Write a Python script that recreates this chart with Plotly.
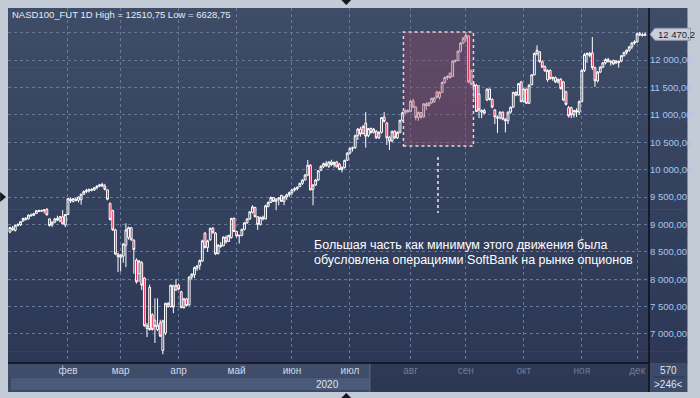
import pandas as pd
import plotly.graph_objects as go

# ---------------- data ----------------
dates = pd.bdate_range("2020-01-02", "2020-12-04")

opens = [
    # Jan
    8860, 8930, 8890, 8985, 8990, 9060, 9115, 9100, 9170, 9165, 9200, 9250, 9240, 9250, 9270, 9100, 8990, 9040, 9110, 9060, 9140, 8990,
    # Feb
    9180, 9460, 9420, 9460, 9440, 9450, 9550, 9600, 9610, 9640, 9630, 9670, 9700, 9730, 9700, 9630, 9380, 9250, 8900, 8460,
    # Mar
    8400, 8420, 8620, 8760, 8940, 8710, 8350, 8100, 8300, 8020, 7100, 7850, 7350, 7250, 7080, 7200, 6700, 7020, 7500, 7500, 7880, 7800,
    # Apr
    7890, 7770, 7480, 7640, 7530, 8040, 8080, 8200, 8250, 8330, 8840, 8580, 8720, 8930, 8840, 8470, 8620, 8610, 8760, 8690, 8760, 9110,
    # May
    8870, 8790, 8800, 8910, 9030, 9100, 9220, 9310, 9140, 9000, 9130, 9100, 9330, 9400, 9490, 9420, 9460, 9530, 9420, 9500, 9540,
    # Jun
    9580, 9630, 9650, 9690, 9750, 9810, 9900, 10080, 9640, 9720, 9810, 9990, 10060, 10110, 10060, 10140, 10090, 10140, 10100, 10000, 10040, 10170,
    # Jul
    10300, 10390, 10400, 10620, 10740, 10660, 10850, 10620, 10750, 10680, 10700, 10580, 10680, 10960, 10850, 10590, 10520, 10700, 10580, 10680, 10900, 11040, 11080,
    # Aug
    11060, 11250, 11140, 10950, 11040, 10960, 11200, 11170, 11220, 11240, 11420, 11320, 11410, 11590, 11680, 11760, 11700, 11980, 11990, 12160, 12310,
    # Sep
    12400, 12440, 11800, 11560, 11540, 11380, 11050, 11080, 11270, 11470, 11280, 11090, 10960, 10940, 11050, 10920, 10890, 11050, 11140, 11410, 11360, 11600,
    # Oct
    11240, 11470, 11210, 11550, 11730, 12120, 12150, 11970, 11880, 11640, 11810, 11660, 11680, 11600, 11650, 11600, 11420, 11130, 11130, 11000, 11080, 11050,
    # Nov
    11240, 11810, 12100, 12120, 12130, 11860, 11620, 11780, 11870, 11950, 12010, 11970, 11990, 11980, 11950, 11980, 12080, 12140, 12180, 12240, 12310,
    # Dec
    12330, 12480, 12460, 12450,
]

highs = [
    8955, 8970, 8990, 9020, 9060, 9120, 9130, 9180, 9200, 9210, 9260, 9270, 9265, 9280, 9300, 9110, 9060, 9120, 9160, 9150, 9260, 9190,
    9480, 9490, 9480, 9490, 9510, 9560, 9620, 9650, 9650, 9660, 9680, 9710, 9740, 9760, 9740, 9640, 9400, 9270, 8920, 8480,
    8460, 8660, 9020, 8960, 8950, 8730, 8380, 8350, 8330, 8040, 7200, 7900, 7380, 7650, 7650, 7260, 7260, 7570, 7580, 7900, 7900, 8000,
    7920, 7790, 7660, 7660, 8050, 8110, 8230, 8260, 8360, 8720, 8860, 8720, 8940, 8950, 8860, 8640, 8680, 8780, 8800, 8810, 9120, 9130,
    8880, 8810, 8920, 9040, 9110, 9240, 9350, 9320, 9150, 9140, 9160, 9360, 9420, 9510, 9500, 9480, 9500, 9540, 9520, 9560, 9600,
    9640, 9680, 9690, 9760, 9820, 9920, 10175, 10100, 9730, 9830, 9990, 10080, 10130, 10160, 10150, 10180, 10150, 10160, 10120, 10060, 10180, 10320,
    10400, 10420, 10640, 10760, 10780, 10810, 11050, 10760, 10770, 10760, 10720, 10700, 10960, 11050, 10870, 10610, 10710, 10720, 10700, 10910, 11060, 11100, 11100,
    11270, 11290, 11160, 11060, 11050, 11210, 11230, 11230, 11310, 11320, 11440, 11430, 11610, 11700, 11720, 11770, 12000, 12010, 12180, 12330, 12420,
    12510.75, 12450, 11830, 11600, 11560, 11545, 11100, 11110, 11480, 11480, 11300, 11100, 10990, 11060, 11060, 10940, 11060, 11150, 11420, 11430, 11580, 11620,
    11480, 11480, 11560, 11740, 12140, 12270, 12160, 11990, 11900, 11830, 11830, 11700, 11700, 11660, 11670, 11620, 11440, 11160, 11150, 11090, 11120, 11260,
    11830, 12130, 12140, 12150, 12420, 11880, 11800, 11890, 11960, 12030, 12040, 12000, 12010, 12000, 11990, 12090, 12150, 12190, 12260, 12330, 12360,
    12500, 12510, 12500, 12500,
]

lows = [
    8840, 8880, 8870, 8960, 8970, 9050, 9070, 9090, 9140, 9150, 9190, 9225, 9225, 9200, 9160, 8960, 8950, 9020, 9060, 9040, 9000, 8950,
    9170, 9390, 9400, 9420, 9400, 9360, 9540, 9570, 9580, 9600, 9610, 9640, 9680, 9680, 9620, 9440, 9070, 8880, 8440, 8130,
    8140, 8300, 8220, 8720, 8700, 8100, 7920, 7950, 7800, 7130, 6945, 7060, 7060, 6835, 7050, 6945, 6628.75, 6980, 7480, 7480, 7380, 7790,
    7800, 7470, 7460, 7500, 7520, 7990, 8020, 8150, 8170, 8320, 8560, 8500, 8700, 8830, 8440, 8450, 8570, 8600, 8650, 8680, 8740, 8860,
    8760, 8650, 8780, 8890, 9010, 9080, 9200, 9130, 8900, 8980, 9070, 9090, 9310, 9390, 9410, 9260, 9350, 9410, 9350, 9450, 9500,
    9540, 9600, 9620, 9680, 9720, 9800, 9880, 9620, 9350, 9700, 9790, 9970, 10030, 10050, 10030, 10070, 10040, 10040, 9990, 9950, 10020, 10160,
    10280, 10330, 10380, 10540, 10600, 10640, 10400, 10590, 10650, 10660, 10560, 10560, 10660, 10860, 10450, 10360, 10500, 10560, 10560, 10660, 10880, 11010, 11030,
    11050, 11130, 10900, 10890, 10930, 10950, 11090, 11150, 11200, 11220, 11300, 11280, 11400, 11570, 11640, 11660, 11690, 11950, 11980, 12140, 12290,
    12330, 11580, 11540, 11300, 11050, 10940, 10940, 11010, 11250, 11260, 11120, 10830, 10670, 10920, 10900, 10680, 10830, 11020, 11130, 11340, 11350, 11230,
    11220, 11200, 11200, 11540, 11720, 12080, 11950, 11860, 11790, 11600, 11640, 11620, 11580, 11570, 11460, 11250, 11170, 10950, 10940, 10950, 10960, 11000,
    11230, 11780, 11950, 12050, 11820, 11510, 11590, 11760, 11850, 11920, 11960, 11900, 11910, 11930, 11860, 11960, 12060, 12100, 12150, 12200, 12280,
    12320, 12440, 12430, 12440,
]

closes = [
    8945, 8905, 8985, 8995, 9050, 9110, 9095, 9170, 9160, 9195, 9250, 9240, 9255, 9265, 9175, 8980, 9040, 9100, 9080, 9140, 9010, 9180,
    9470, 9430, 9470, 9440, 9500, 9550, 9600, 9620, 9640, 9625, 9670, 9700, 9720, 9700, 9640, 9460, 9090, 8900, 8460, 8410,
    8440, 8640, 8900, 8940, 8720, 8540, 7950, 8330, 7890, 7150, 7150, 7080, 7080, 7140, 7160, 6960, 7240, 7560, 7560, 7890, 7490, 7890,
    7820, 7480, 7640, 7520, 8040, 8090, 8210, 8240, 8340, 8700, 8580, 8700, 8930, 8850, 8460, 8620, 8600, 8770, 8680, 8800, 9110, 8870,
    8790, 8800, 8910, 9030, 9100, 9230, 9320, 9140, 9000, 9130, 9100, 9340, 9400, 9490, 9420, 9460, 9480, 9420, 9500, 9540, 9580,
    9630, 9650, 9680, 9750, 9810, 9900, 10080, 9630, 9720, 9810, 9980, 10060, 10110, 10070, 10140, 10090, 10130, 10050, 10000, 10040, 10170, 10300,
    10390, 10400, 10620, 10740, 10650, 10790, 10610, 10750, 10680, 10740, 10580, 10680, 10950, 10880, 10580, 10520, 10700, 10580, 10680, 10900, 11040, 11080, 11060,
    11250, 11140, 10950, 11040, 10960, 11200, 11170, 11220, 11300, 11310, 11320, 11410, 11590, 11680, 11700, 11680, 11980, 11990, 12160, 12310, 12400,
    12450, 11600, 11560, 11520, 11060, 11090, 11080, 11030, 11470, 11280, 11140, 10960, 10940, 11050, 10920, 10890, 11050, 11140, 11410, 11360, 11570, 11240,
    11470, 11210, 11540, 11730, 12120, 12180, 11970, 11870, 11800, 11810, 11660, 11680, 11600, 11650, 11480, 11270, 11190, 10980, 11000, 11080, 11050, 11240,
    11810, 12100, 12120, 12080, 11860, 11620, 11780, 11870, 11950, 12010, 11970, 11960, 11930, 11950, 11980, 12080, 12140, 12180, 12240, 12310, 12330,
    12480, 12460, 12450, 12470.25,
]

month_labels = ["фев", "мар", "апр", "май", "июн", "июл", "авг", "сен", "окт", "ноя", "дек"]
y_ticks = [7000, 7500, 8000, 8500, 9000, 9500, 10000, 10500, 11000, 11500, 12000, 12500]
note_lines = ["Большая часть как минимум этого движения была",
              "обусловлена операциями SoftBank на рынке опционов"]
instrument = "NASD100_FUT 1D"
year_label = "2020"
corner_top, corner_bottom = "570", ">246<"

assert len(opens) == len(highs) == len(lows) == len(closes) == len(dates), (
    len(opens), len(highs), len(lows), len(closes), len(dates))

# ---------------- layout helpers ----------------
W, H = 700, 398
ML, MR, MT, MB = 8, 42, 8, 35
PW, PH = W - ML - MR, H - MT - MB
FONT = "Liberation Sans, Arial, sans-serif"


def X(p):
    return (p - ML) / PW


def Y(p):
    return (H - MB - p) / PH


def ru_num(v, dec=2, sep=" "):
    s = f"{v:,.{dec}f}"
    return s.replace(",", sep).replace(".", ",")


idx = list(range(len(dates)))
month_starts = [i for i in range(1, len(dates)) if dates[i].month != dates[i - 1].month]
tick_text = []
for k, lab in enumerate(month_labels):
    col = "#cfd8ea" if k < 6 else "#6e7d96"
    tick_text.append(f'<span style="color:{col}">{lab}</span>')

last = closes[-1]
y_text = [ru_num(v) if abs(v - last) > 250 else "" for v in y_ticks]

fig = go.Figure()
fig.add_trace(go.Candlestick(
    x=idx, open=opens, high=highs, low=lows, close=closes,
    increasing=dict(line=dict(color="#ffffff", width=1), fillcolor="rgba(0,0,0,0)"),
    decreasing=dict(line=dict(color="#ffffff", width=1), fillcolor="#e3143f"),
    whiskerwidth=0, hoverinfo="skip", showlegend=False,
))

shapes = []
# gradient panel background
top_c, bot_c = (62, 76, 104), (44, 56, 85)
N = 30
y_top, y_bot = 8, 363
for k in range(N):
    t = k / (N - 1)
    c = tuple(round(top_c[j] + (bot_c[j] - top_c[j]) * t) for j in range(3))
    y0 = y_top + (y_bot - y_top) * k / N
    y1 = y_top + (y_bot - y_top) * (k + 1) / N + 0.6
    shapes.append(dict(type="rect", xref="paper", yref="paper", layer="below",
                       x0=X(8), x1=X(697), y0=Y(y1), y1=Y(y0),
                       fillcolor=f"rgb{c}", line=dict(width=0)))
# bottom time strip
strip = [
    (8, 375, 363, 377, "#3f4d6a"),
    (375, 658, 363, 377, "#2d3955"),
    (8, 375, 377, 392, "#3b4965"),
    (11, 375, 378, 390, "#4b5a78"),
    (375, 658, 377, 392, "#2b3753"),
    (658, 697, 363, 392, "#3d4b68"),
]
for x0, x1, y0, y1, col in strip:
    shapes.append(dict(type="rect", xref="paper", yref="paper", layer="below",
                       x0=X(x0), x1=X(x1), y0=Y(y1), y1=Y(y0),
                       fillcolor=col, line=dict(width=0)))
# separators / borders
lines = [
    (375, 363, 375, 392, "#5d6c88", 1),
    (658, 8, 658, 392, "#0c0f16", 1.5),
    (8, 363, 658, 363, "#0c0f16", 1.5),
    (662, 377, 694, 377, "#2a3550", 1),
]
for x0, y0, x1, y1, col, w in lines:
    shapes.append(dict(type="line", xref="paper", yref="paper", layer="above",
                       x0=X(x0), x1=X(x1), y0=Y(y0), y1=Y(y1),
                       line=dict(color=col, width=w)))


def tri(pts, col):
    d = "M " + " L ".join(f"{X(a)},{Y(b)}" for a, b in pts) + " Z"
    return dict(type="path", xref="paper", yref="paper", path=d, layer="above",
                fillcolor=col, line=dict(width=0))


shapes.append(tri([(346, 0), (356, 0), (351, 5)], "#141821"))
shapes.append(tri([(346, 398), (356, 398), (351, 393)], "#141821"))
shapes.append(tri([(0, 192), (0, 202), (6, 197)], "#141821"))

# highlighted region
shapes.append(dict(type="rect", xref="paper", yref="paper", layer="above",
                   x0=X(409), x1=X(480), y0=Y(146), y1=Y(32),
                   fillcolor="rgba(150,70,100,0.38)",
                   line=dict(color="#ead2da", width=1.5, dash="dot")))
# dotted pointer line
shapes.append(dict(type="line", xref="paper", yref="paper", layer="above",
                   x0=X(444), x1=X(444), y0=Y(157), y1=Y(213),
                   line=dict(color="#b9c3d3", width=2, dash="dot")))
# price tag arrow
shapes.append(dict(type="path", xref="paper", yref="y", layer="above",
                   path=f"M {X(659)},{last} L {X(664)},{last + 110} L {X(700)},{last + 110} "
                        f"L {X(700)},{last - 110} L {X(664)},{last - 110} Z",
                   fillcolor="#c9ced8", line=dict(color="#8e97a8", width=1)))

annotations = [
    dict(xref="paper", yref="paper", x=X(10), y=Y(15), xanchor="left", yanchor="middle",
         text=f"{instrument} High = {ru_num(max(highs), sep='')} Low = {ru_num(min(lows), sep='')}",
         showarrow=False, font=dict(family=FONT, size=9.5, color="#e6ebf3")),
    dict(xref="paper", yref="paper", x=X(316), y=Y(245), xanchor="left", yanchor="middle",
         text=note_lines[0], showarrow=False, font=dict(family=FONT, size=12.5, color="#ffffff")),
    dict(xref="paper", yref="paper", x=X(316), y=Y(260), xanchor="left", yanchor="middle",
         text=note_lines[1], showarrow=False, font=dict(family=FONT, size=12.5, color="#ffffff")),
    dict(xref="paper", yref="paper", x=X(346), y=Y(384), xanchor="right", yanchor="middle",
         text=year_label, showarrow=False, font=dict(family=FONT, size=10, color="#dde4f0")),
    dict(xref="paper", yref="paper", x=X(678), y=Y(370), xanchor="center", yanchor="middle",
         text=corner_top, showarrow=False, font=dict(family=FONT, size=10, color="#dde4f0")),
    dict(xref="paper", yref="paper", x=X(678), y=Y(384), xanchor="center", yanchor="middle",
         text=corner_bottom, showarrow=False, font=dict(family=FONT, size=10, color="#dde4f0")),
    dict(xref="paper", yref="y", x=X(665), y=last, xanchor="left", yanchor="middle",
         text=ru_num(last, dec=1), showarrow=False,
         font=dict(family=FONT, size=9.5, color="#1b2233")),
]

grid_col = "#67789a"
fig.update_layout(
    width=W, height=H,
    margin=dict(l=ML, r=MR, t=MT, b=MB, pad=0),
    paper_bgcolor="#c3cbd7",
    plot_bgcolor="rgba(0,0,0,0)",
    showlegend=False,
    shapes=shapes,
    annotations=annotations,
    font=dict(family=FONT),
    boxgap=0.3, boxgroupgap=0,
    xaxis=dict(
        range=[-0.75, len(dates) + 0.5],
        tickmode="array", tickvals=month_starts, ticktext=tick_text,
        showgrid=True, gridcolor=grid_col, gridwidth=1, griddash="3px,3px",
        zeroline=False, showline=False, ticks="",
        tickfont=dict(family=FONT, size=10, color="#cfd8ea"),
        rangeslider=dict(visible=False), fixedrange=True,
    ),
    yaxis=dict(
        side="right", range=[6470, 12950],
        tickmode="array", tickvals=y_ticks, ticktext=y_text,
        showgrid=True, gridcolor=grid_col, gridwidth=1, griddash="3px,3px",
        zeroline=False, showline=False, ticks="",
        tickfont=dict(family=FONT, size=9.5, color="#a9c5ee"),
        fixedrange=True,
    ),
)

fig.write_html("out.html", config={"displayModeBar": False},
               post_script="document.body.style.margin='0px';document.body.style.overflow='hidden';")
